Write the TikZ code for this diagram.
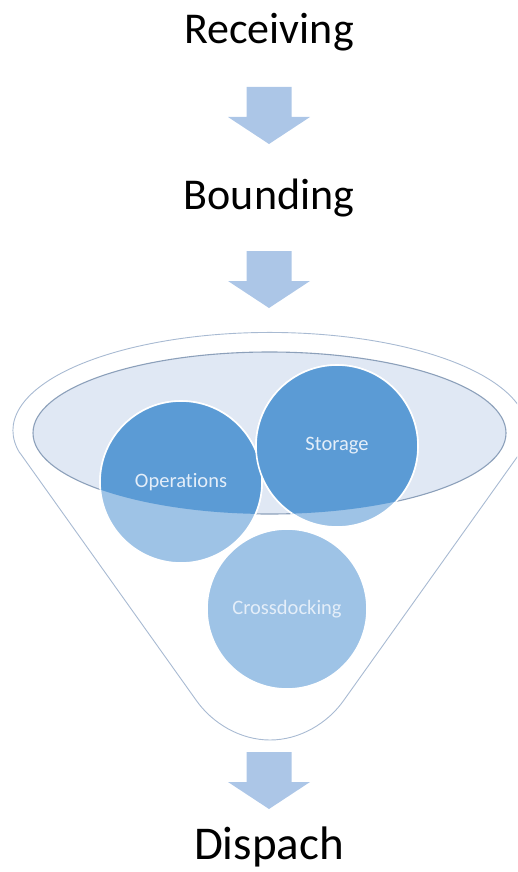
\documentclass[tikz,border=0pt]{standalone}
\usepackage{fontspec}
\setmainfont{Carlito}
\newfontfamily\labelfont{Carlito}[Ligatures=NoCommon]
\definecolor{arrowblue}{RGB}{172,198,231}
\definecolor{darkblue}{RGB}{91,155,213}
\definecolor{lightblue}{RGB}{158,195,230}
\definecolor{bowlfill}{RGB}{224,232,244}
\definecolor{bowlline}{RGB}{140,160,186}
\definecolor{funnelline}{RGB}{168,186,210}
\definecolor{circletext}{RGB}{228,238,249}
\tikzset{
  x=1pt, y=-1pt,
  stage/.style={inner sep=0pt, anchor=base, font=\fontsize{44}{50}\selectfont},
  circlelabel/.style={inner sep=0pt, text=circletext, font=\labelfont\fontsize{20.5}{24}\selectfont},
  funnel/.style={draw=funnelline, line width=0.9pt, line join=round},
  bowl/.style={draw=bowlline, fill=bowlfill, line width=1.1pt},
  ball/.style={draw=white, line width=1.6pt},
  pics/downarrow/.style={code={
    \fill[arrowblue] (-22.5,0) -- (22.5,0) -- (22.5,30) -- (41,30) -- (0,57)
      -- (-41,30) -- (-22.5,30) -- cycle;
  }}
}
\begin{document}
\begin{tikzpicture}
\useasboundingbox (0,0) rectangle (517,872);
\clip (0,0) rectangle (517,872);

% process stages
\node[stage] (receiving) at (269,44) {Receiving};
\node[stage] (bounding) at (269,209) {Bounding};
\node[stage, font=\fontsize{47}{52}\selectfont] (dispach) at (269,859) {Dispach};

% block arrows between the stages
\pic at (269,87) {downarrow};
\pic at (269,251) {downarrow};
\pic at (269,752) {downarrow};

% funnel outline
\draw[funnel] (20,453) -- (196,700)
  .. controls (212,723) and (240,740) .. (270,740)
  .. controls (300,740) and (328,723) .. (344,700)
  -- (520,453)
  arc[start angle=13.3, end angle=-193.3, x radius=257, y radius=98] -- cycle;

% mouth of the funnel
\draw[bowl] (269.5,433) ellipse[x radius=236.5, y radius=81];

% circles, light below the mouth
\fill[lightblue] (287,609) circle[radius=80];
\draw[ball] (287,609) circle[radius=80];
\fill[lightblue] (181,482) circle[radius=81];
\draw[ball] (181,482) circle[radius=81];
\fill[lightblue] (337,446) circle[radius=81];
\draw[ball] (337,446) circle[radius=81];

% circles, darker inside the mouth
\begin{scope}
  \clip (269.5,433) ellipse[x radius=236.5, y radius=81];
  \fill[darkblue] (181,482) circle[radius=81];
  \draw[ball] (181,482) circle[radius=81];
  \fill[darkblue] (337,446) circle[radius=81];
  \draw[ball] (337,446) circle[radius=81];
\end{scope}

\node[circlelabel] (operations) at (181,482) {Operations};
\node[circlelabel] (storage) at (337,446) {Storage};
\node[circlelabel] (crossdocking) at (287,609) {Crossdocking};
\end{tikzpicture}
\end{document}
